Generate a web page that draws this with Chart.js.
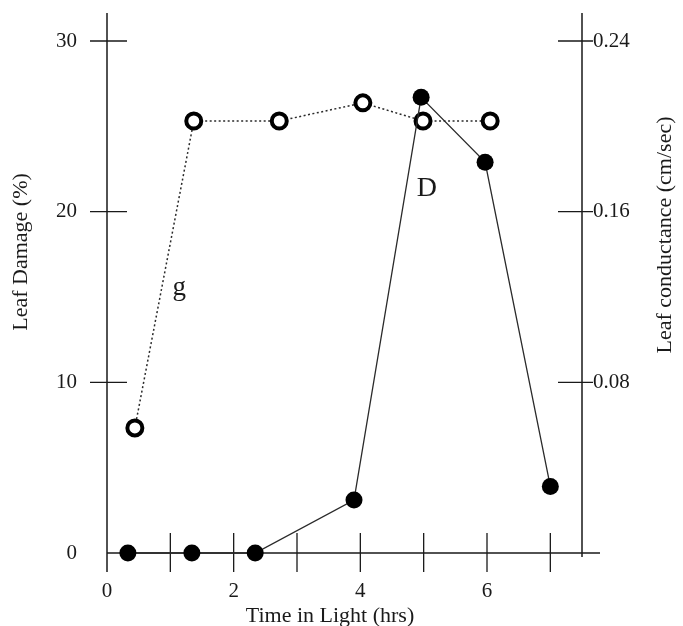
<!DOCTYPE html>
<html>
<head>
<meta charset="utf-8">
<script src="https://cdn.jsdelivr.net/npm/chart.js@4/dist/chart.umd.min.js"></script>
<style>
  html, body { margin: 0; padding: 0; background: #fff; }
  canvas { display: block; }
</style>
</head>
<body>
<canvas id="chart" width="683" height="626"></canvas>
<script>
// ===== data =====
// D : leaf damage (%), left axis
const damageHours = [0.33, 1.34, 2.34, 3.90, 4.96, 5.97, 7.0];
const damageValues = [0, 0, 0, 3.1, 26.7, 22.9, 3.9];

// g : leaf conductance (cm/sec), right axis
const condHours = [0.44, 1.37, 2.72, 4.04, 4.99, 6.05];
const condValues = [0.0586, 0.2025, 0.2025, 0.211, 0.2025, 0.2025];

// ticks
const xTicks = [0, 1, 2, 3, 4, 5, 6, 7];
const xLabelled = [0, 2, 4, 6];
const leftTicks = [0, 10, 20, 30];
const rightTicks = [0.08, 0.16, 0.24];

// in-plot labels (x in hrs, y in left-axis units)
const noteText = ["g", "D"];
const noteX = [1.14, 5.05];
const noteY = [15.1, 20.9];

const serif = "'Liberation Serif', 'DejaVu Serif', serif";
const ink = "#1a1a1a";

// no label overhang above / below the plot
function noPad(s) {
  s.paddingTop = 0;
  s.paddingBottom = 0;
}

// ===== axes drawn as crossing ticks =====
const axesPlugin = {
  id: "axes",
  beforeDatasetsDraw(chart) {
    const { ctx, chartArea: a, scales } = chart;
    const x = scales.x, yl = scales.yL, yr = scales.yR;
    ctx.save();
    ctx.strokeStyle = ink;
    ctx.lineWidth = 1.5;
    ctx.beginPath();
    // left axis
    ctx.moveTo(a.left, a.top);
    ctx.lineTo(a.left, a.bottom + 19);
    // right axis
    ctx.moveTo(a.right, a.top);
    ctx.lineTo(a.right, a.bottom + 4);
    // bottom axis
    ctx.moveTo(a.left, a.bottom);
    ctx.lineTo(a.right + 18, a.bottom);
    ctx.stroke();

    ctx.lineWidth = 1.3;
    ctx.beginPath();
    leftTicks.forEach(v => {
      if (v === 0) return;
      const py = yl.getPixelForValue(v);
      ctx.moveTo(a.left - 17, py);
      ctx.lineTo(a.left + 20, py);
    });
    rightTicks.forEach(v => {
      const py = yr.getPixelForValue(v);
      ctx.moveTo(a.right - 24, py);
      ctx.lineTo(a.right + 11, py);
    });
    xTicks.forEach(v => {
      if (v === 0) return;
      const px = x.getPixelForValue(v);
      ctx.moveTo(px, a.bottom - 20);
      ctx.lineTo(px, a.bottom + 19);
    });
    ctx.stroke();
    ctx.restore();
  },
  afterDraw(chart) {
    const { ctx, scales } = chart;
    ctx.save();
    ctx.fillStyle = ink;
    ctx.font = "22px " + serif;
    ctx.textAlign = "center";
    ctx.textBaseline = "middle";

    // left title
    ctx.save();
    ctx.translate(21, 252);
    ctx.rotate(-Math.PI / 2);
    ctx.fillText("Leaf Damage (%)", 0, 0);
    ctx.restore();

    // right title (reads bottom to top, like the left one)
    ctx.save();
    ctx.translate(665, 235);
    ctx.rotate(-Math.PI / 2);
    ctx.fillText("Leaf conductance (cm/sec)", 0, 0);
    ctx.restore();

    // bottom title
    ctx.textBaseline = "alphabetic";
    ctx.fillText("Time in Light (hrs)", 330, 622);

    // series labels
    noteText.forEach((t, i) => {
      ctx.font = (t === "D" ? "28px " : "27px ") + serif;
      ctx.fillText(t, scales.x.getPixelForValue(noteX[i]), scales.yL.getPixelForValue(noteY[i]));
    });
    ctx.restore();
  }
};

new Chart(document.getElementById("chart"), {
  type: "line",
  data: {
    datasets: [
      {
        label: "D",
        data: damageHours.map((h, i) => ({ x: h, y: damageValues[i] })),
        yAxisID: "yL",
        borderColor: "#2a2a2a",
        borderWidth: 1.3,
        pointRadius: 8.5,
        pointBackgroundColor: "#000",
        pointBorderColor: "#000",
        pointBorderWidth: 0,
        tension: 0,
        clip: false
      },
      {
        label: "g",
        data: condHours.map((h, i) => ({ x: h, y: condValues[i] })),
        yAxisID: "yR",
        borderColor: "#2a2a2a",
        borderWidth: 1.5,
        borderDash: [2, 2.5],
        pointRadius: 7.5,
        pointBackgroundColor: "#fff",
        pointBorderColor: "#000",
        pointBorderWidth: 4,
        tension: 0,
        clip: false
      }
    ]
  },
  options: {
    responsive: false,
    animation: false,
    layout: { padding: { top: 13, left: 0, right: 0, bottom: 0 } },
    plugins: { legend: { display: false }, tooltip: { enabled: false } },
    scales: {
      x: {
        type: "linear",
        min: 0,
        max: 7.5,
        grid: { display: false },
        border: { display: false },
        afterBuildTicks: s => { s.ticks = xTicks.map(v => ({ value: v })); },
        afterFit: s => { s.height = 73; s.paddingLeft = 0; s.paddingRight = 0; },
        ticks: {
          padding: 18,
          color: ink,
          font: { family: serif, size: 21 },
          maxRotation: 0,
          autoSkip: false,
          callback: v => (xLabelled.includes(v) ? String(v) : "")
        }
      },
      yL: {
        type: "linear",
        position: "left",
        min: 0,
        max: 31.64,
        grid: { display: false },
        border: { display: false },
        afterBuildTicks: s => { s.ticks = leftTicks.map(v => ({ value: v })); },
        afterFit: s => { s.width = 107; noPad(s); },
        ticks: {
          padding: 22,
          color: ink,
          font: { family: serif, size: 21 },
          callback: v => String(v)
        }
      },
      yR: {
        type: "linear",
        position: "right",
        min: 0,
        max: 0.24 * 31.64 / 30,
        grid: { display: false },
        border: { display: false },
        afterBuildTicks: s => { s.ticks = rightTicks.map(v => ({ value: v })); },
        afterFit: s => { s.width = 101; noPad(s); },
        ticks: {
          padding: 3,
          color: ink,
          font: { family: serif, size: 21 },
          callback: v => Number(v).toFixed(2)
        }
      }
    }
  },
  plugins: [axesPlugin]
});
</script>
</body>
</html>
